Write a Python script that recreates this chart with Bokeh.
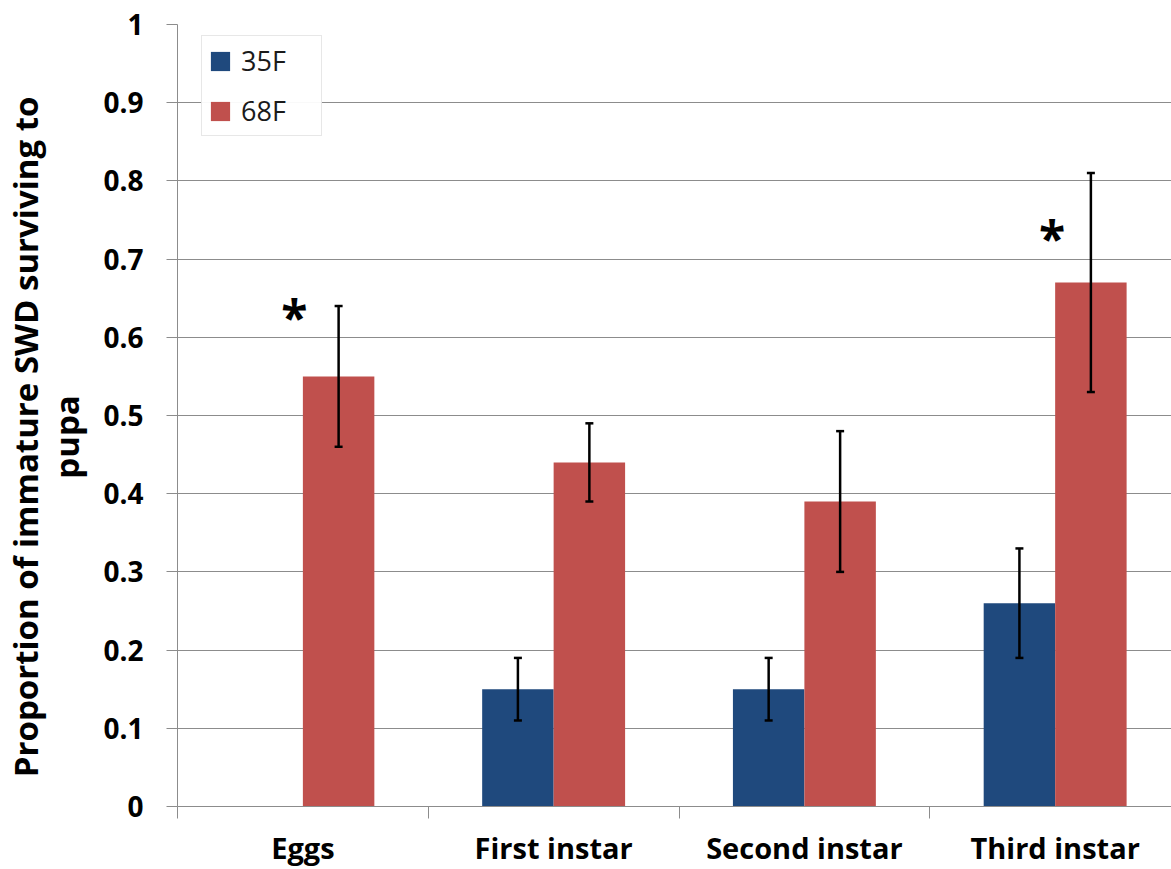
from bokeh.plotting import figure
from bokeh.models import (ColumnDataSource, Range1d, FixedTicker, CustomJSTickFormatter,
                          Whisker, TeeHead, Legend, LegendItem)
from bokeh.core.properties import value
from bokeh.embed import file_html
from bokeh.resources import INLINE

categories = ["Eggs", "First instar", "Second instar", "Third instar"]
series = ["35F", "68F"]
vals_35F = [0.0, 0.15, 0.15, 0.26]
low_35F = [0.0, 0.11, 0.11, 0.19]
high_35F = [0.0, 0.19, 0.19, 0.33]
vals_68F = [0.55, 0.44, 0.39, 0.67]
low_68F = [0.46, 0.39, 0.30, 0.53]
high_68F = [0.64, 0.49, 0.48, 0.81]
sig_x = [0.466, 3.488]
sig_y = [0.634, 0.735]
y_ticks = [0, 0.1, 0.2, 0.3, 0.4, 0.5, 0.6, 0.7, 0.8, 0.9, 1.0]
y_title = ["Proportion of immature SWD surviving to", "pupa"]

BLUE = "#1F497D"
RED = "#C0504D"
GRID = "#8C8C8C"
FONT = "Open Sans"

bar_w = 0.285
centers = [i + 0.5 for i in range(len(categories))]

p = figure(width=1171, height=869, output_backend="svg", toolbar_location=None,
           x_range=Range1d(0, 3.964), y_range=Range1d(0, 1),
           min_border_left=176, min_border_right=0, min_border_top=24, min_border_bottom=63)
p.outline_line_color = None
p.background_fill_color = "white"
p.border_fill_color = "white"

src_a = ColumnDataSource(dict(x=[c - bar_w / 2 for c in centers], top=vals_35F))
src_b = ColumnDataSource(dict(x=[c + bar_w / 2 for c in centers], top=vals_68F))
r_a = p.vbar(x="x", top="top", bottom=0, width=bar_w, source=src_a, fill_color=BLUE, line_color=None)
r_b = p.vbar(x="x", top="top", bottom=0, width=bar_w, source=src_b, fill_color=RED, line_color=None)

# error bars (skip zero-valued bars)
ex, el, eh = [], [], []
for c, v, lo, hi in zip(centers, vals_35F, low_35F, high_35F):
    if v > 0:
        ex.append(c - bar_w / 2); el.append(lo); eh.append(hi)
for c, v, lo, hi in zip(centers, vals_68F, low_68F, high_68F):
    if v > 0:
        ex.append(c + bar_w / 2); el.append(lo); eh.append(hi)
err_src = ColumnDataSource(dict(x=ex, lower=el, upper=eh))
wh = Whisker(base="x", lower="lower", upper="upper", source=err_src, dimension="height",
             line_color="black", line_width=2.5, level="annotation",
             upper_head=TeeHead(size=8, line_width=2.5, line_color="black"),
             lower_head=TeeHead(size=8, line_width=2.5, line_color="black"))
p.add_layout(wh)

# significance asterisks
p.text(x=sig_x, y=sig_y, text=["*"] * len(sig_y), text_font=value(FONT), text_font_style="bold",
       text_font_size="48px", text_align="center", text_baseline="middle", y_offset=6,
       text_color="black")

# axes
p.yaxis.ticker = FixedTicker(ticks=y_ticks)
p.yaxis.formatter = CustomJSTickFormatter(code="return tick.toFixed(1).replace(/\\.0$/, '')")
p.yaxis.major_tick_out = 11
p.yaxis.major_tick_in = 0
p.yaxis.minor_tick_out = 0
p.yaxis.minor_tick_in = 0
p.yaxis.axis_line_color = GRID
p.yaxis.major_tick_line_color = GRID
p.yaxis.major_label_standoff = 23
p.yaxis.major_label_text_font = FONT
p.yaxis.major_label_text_font_style = "bold"
p.yaxis.major_label_text_font_size = "28px"
p.yaxis.major_label_text_color = "black"
pad = "\u00a0" * 5
p.yaxis.axis_label = "\n".join(t + pad for t in y_title)
p.yaxis.axis_label_text_font = FONT
p.yaxis.axis_label_text_font_style = "bold"
p.yaxis.axis_label_text_font_size = "33px"
p.yaxis.axis_label_text_line_height = 0.92
p.yaxis.axis_label_standoff = 11
p.yaxis.axis_label_text_color = "black"

p.xaxis.ticker = FixedTicker(ticks=centers, minor_ticks=list(range(len(categories) + 1)))
p.xaxis.formatter = CustomJSTickFormatter(args=dict(cats=categories),
                                          code="return cats[Math.floor(tick)]")
p.xaxis.major_tick_out = 0
p.xaxis.major_tick_in = 0
p.xaxis.minor_tick_out = 12
p.xaxis.minor_tick_in = 0
p.xaxis.minor_tick_line_color = GRID
p.xaxis.axis_line_color = GRID
p.xaxis.major_label_standoff = 9
p.xaxis.major_label_text_font = FONT
p.xaxis.major_label_text_font_style = "bold"
p.xaxis.major_label_text_font_size = "29px"
p.xaxis.major_label_text_color = "black"

p.xgrid.grid_line_color = None
p.ygrid.ticker = FixedTicker(ticks=y_ticks)
p.ygrid.grid_line_color = GRID
p.ygrid.grid_line_width = 1

legend = Legend(items=[LegendItem(label=series[0], renderers=[r_a]),
                       LegendItem(label=series[1], renderers=[r_b])],
                location=(24, 670), orientation="vertical",
                padding=6, spacing=13, glyph_width=24, glyph_height=24, label_height=27,
                label_standoff=9, label_width=74,
                label_text_font=FONT, label_text_font_size="27px", label_text_color="#1A1A1A",
                border_line_color="#D0D0D0", border_line_width=1, background_fill_color="white",
                margin=0)
p.add_layout(legend, "center")

html = file_html(p, INLINE)
open("out.html", "w").write(html)
